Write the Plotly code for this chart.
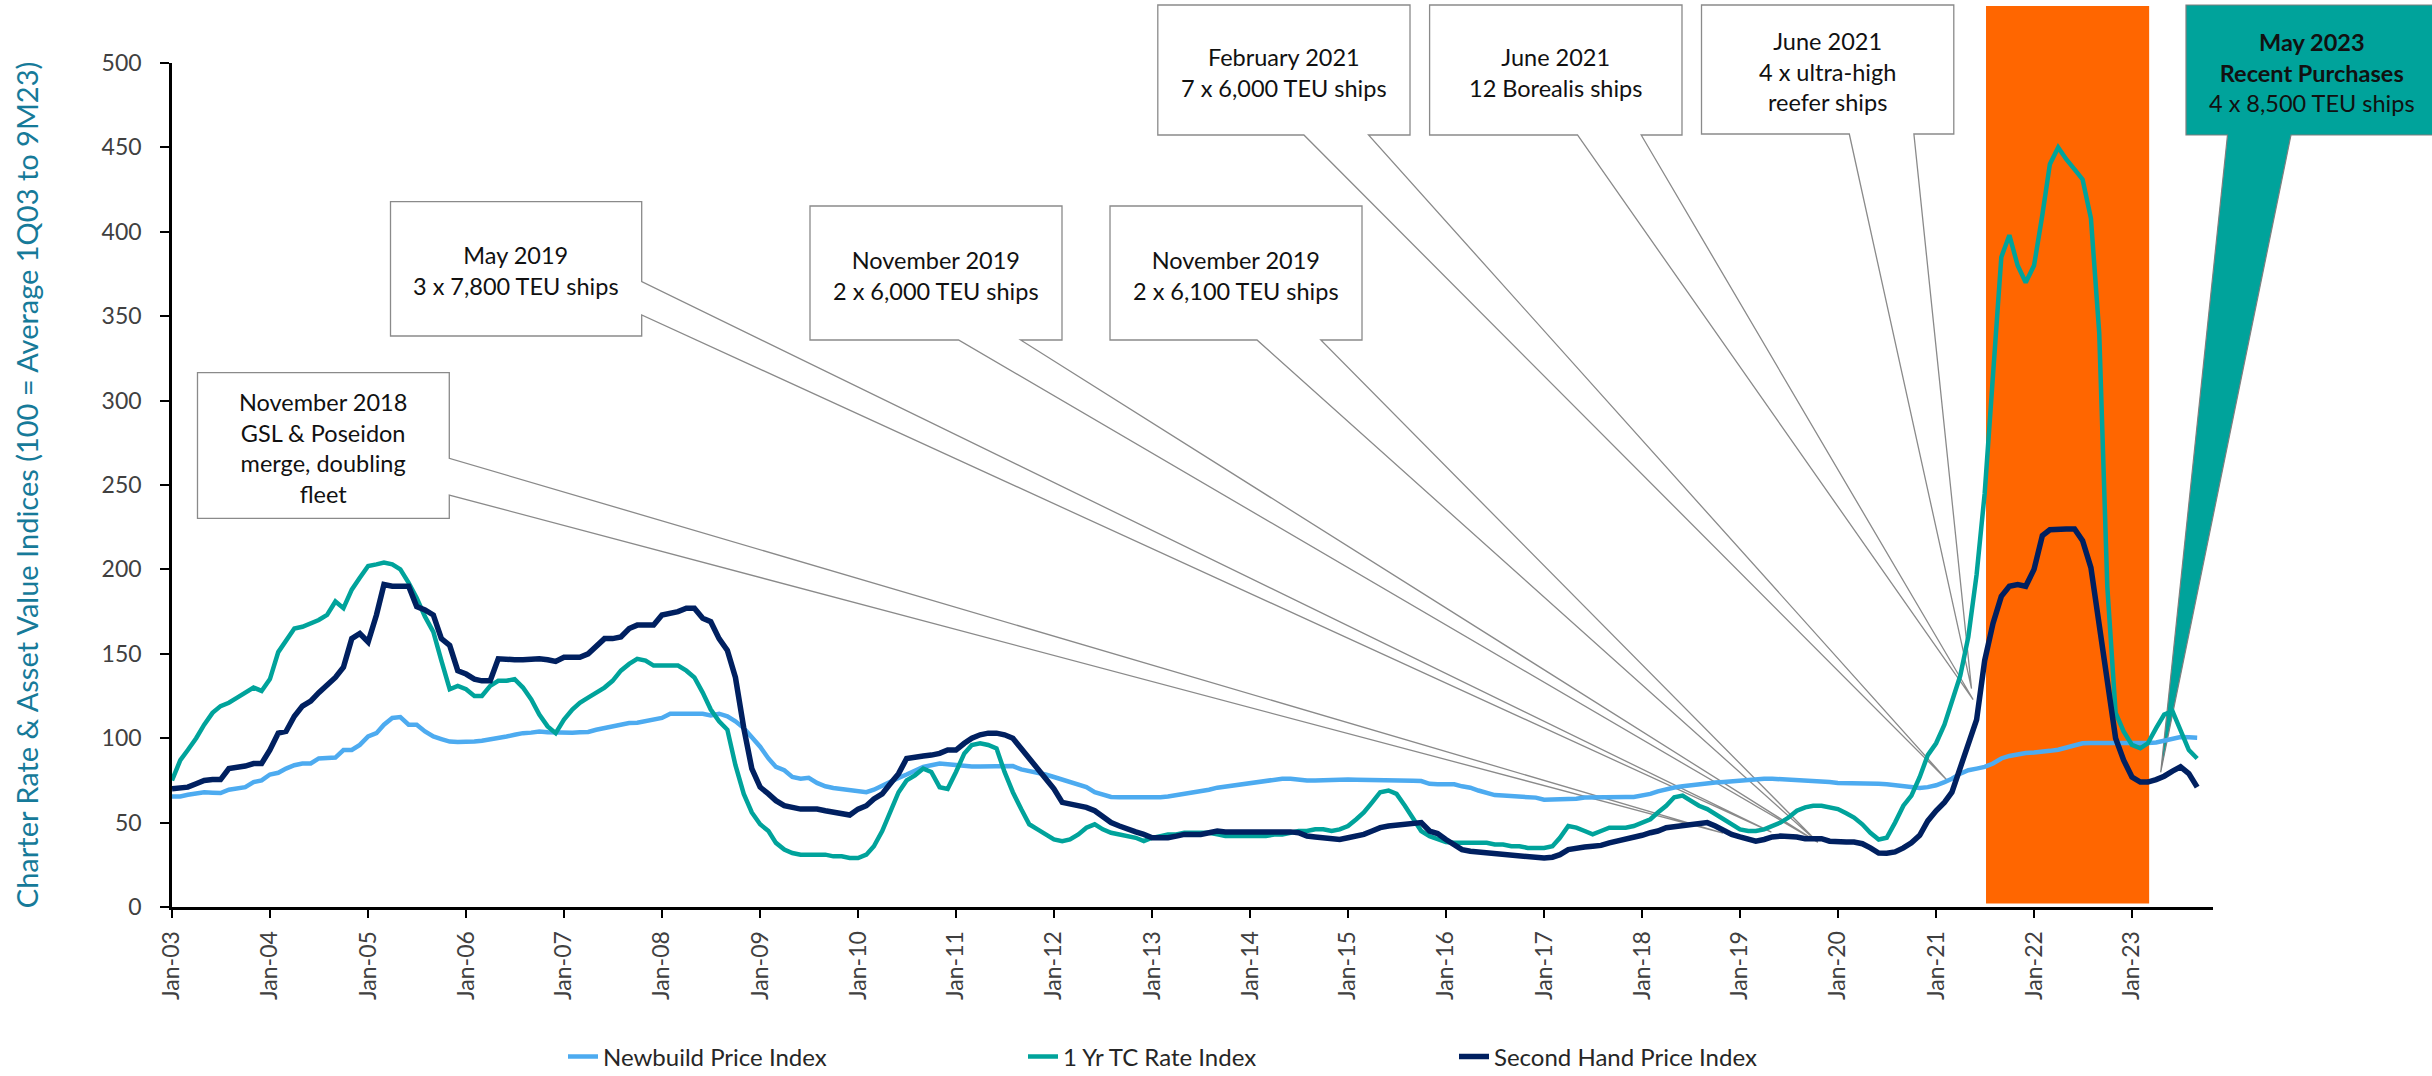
import plotly.graph_objects as go
import pandas as pd

# ---------------- DATA (monthly, Jan-2003 .. Sep-2023) ----------------
START_MONTH = "2003-01-01"

newbuild = [
    65.5, 65.5, 66.5, 67, 68, 67.7, 67.5, 69.5, 70.5, 71,
    74, 75, 78.5, 79.5, 82, 84, 85, 85, 88, 88,
    88.5, 93, 93, 96, 101, 103, 108, 112, 112.5, 108,
    108, 104, 101, 99.5, 98, 97.7, 97.7, 98, 98.5, 99.3,
    99.7, 101, 102, 103, 103.3, 104, 103.5, 103.3, 103.3, 103.3,
    103.5, 103.7, 105, 106, 106.6, 108, 109, 109.2, 110, 111,
    112, 114.5, 114.5, 114.5, 114.5, 114.5, 113.5, 114.5, 113, 110,
    106, 101, 95, 88, 83, 81, 77, 76, 76.5, 73.5,
    71.5, 70.5, 70, 69.5, 68.5, 68, 69.5, 72, 74, 76.5,
    78.5, 81, 83, 84, 85, 84.5, 84, 83.5, 83.3, 83.3,
    83.5, 83.5, 83.5, 83.5, 81.5, 80.5, 80, 78.5, 77, 75.5,
    74, 72.5, 71, 68, 66.5, 65.2, 65, 65, 64.8, 64.8,
    64.8, 65, 65.5, 66.2, 67.5, 68.2, 68.7, 69.5, 70.7, 71.4,
    72, 73, 73.5, 74, 75, 75.5, 76, 76, 75.2, 75,
    75, 75.2, 75.4, 75.8, 75.6, 75.4, 75.4, 75.4, 75.4, 75.2,
    75, 75, 74.8, 74.6, 73, 72.7, 72.7, 72.7, 71.5, 70.7,
    69, 67.5, 66.3, 66, 65.6, 65.2, 65, 64.8, 63.6, 63.6,
    63.6, 63.6, 64.2, 64.8, 65, 65.2, 65.2, 65.2, 65.2, 65.2,
    66, 67, 68.5, 70, 70.8, 71.5, 72.2, 73, 73.5, 73.8,
    74.1, 74.5, 75, 75.5, 76, 76, 76, 75.8, 75.2, 75,
    74.6, 74.6, 74.6, 74, 73.5, 73.5, 73.5, 73.5, 73.2, 73,
    72.7, 72.2, 71.5, 71, 70.5, 71, 72.1, 74, 76, 79,
    81, 82, 83, 85, 88, 89.5, 90.5, 91.2, 91.5, 91.8,
    92.5, 93.2, 94.5, 95.2, 97, 97.2, 97.2, 97.2, 96.8, 96.8,
    96.8, 97, 97.2, 97.5, 98.5, 99.5, 100.7, 100.5, 100.3,
]

tc_rate = [
    75, 87, 93, 100, 108, 115, 119, 121, 124, 127,
    130, 128, 135, 151, 158, 165, 166, 168, 170, 173,
    181, 177, 188, 195, 202, 203, 204, 203, 200, 192,
    183, 172, 163, 146, 129, 131, 129, 125, 125, 131,
    134, 134, 135, 130, 123, 114, 107, 103, 111, 117,
    121, 124, 127, 130, 134, 140, 144, 147, 146, 143,
    143, 143, 143, 140, 136, 127, 117, 110, 105, 84,
    67, 56, 49, 45, 38, 34, 32, 31, 31, 31,
    31, 30, 30, 29, 29, 31, 36, 45, 57, 68,
    75, 78, 82, 80, 71, 70, 80, 91, 96, 97,
    96, 94, 80, 68, 58, 49, 46, 43, 40, 39,
    40, 43, 47, 49, 46, 44, 43, 42, 41, 39,
    41, 42, 43, 43, 44, 44, 44, 44, 43, 42,
    42, 42, 42, 42, 42, 43, 43, 44, 45, 45,
    46, 46, 45, 46, 48, 52, 56, 62, 68, 69,
    67, 60, 52, 45, 42, 40, 38.5, 38, 38, 38,
    38, 38, 37, 37, 36, 36, 35, 35, 35, 36,
    41, 48, 47, 45, 43, 45, 47, 47, 47, 48,
    50, 52, 56, 60, 65, 66, 63, 60, 58, 55,
    52, 49, 46, 45, 45, 46, 48, 50, 53, 57,
    59, 60, 60, 59, 58, 55.5, 53, 49, 44, 40,
    41, 50, 60, 66, 77, 90, 97, 108, 121, 137,
    160, 197, 245, 318, 385, 398, 380, 370, 380, 410,
    440, 450, 443, 437, 431, 408, 340, 190, 115, 104,
    96, 94, 97, 106, 114, 116, 104, 93, 88,
]

second_hand = [
    70, 70.5, 71, 73, 75, 75.5, 75.5, 82, 82.5, 83.5,
    85, 85, 93, 103, 104, 113, 119, 122, 127, 131,
    136, 142, 159, 162, 157, 173, 191, 190, 190, 190,
    178, 176, 173, 159, 155, 140, 138, 135, 134, 134,
    147, 146.5, 146.5, 146.5, 147, 147, 146.5, 145.5, 148, 148,
    148, 150, 154, 159, 159, 160, 165, 167, 167, 167,
    173, 174, 175, 177, 177, 171, 169, 159, 152, 136,
    106, 82, 71, 67, 63, 60, 59, 58, 58, 58,
    57, 56, 55, 54.5, 58, 60, 64, 67, 73, 79,
    88, 89, 89.5, 90, 91, 93, 93, 97, 100, 102,
    103, 103, 102, 100, 94, 89, 82, 77, 70, 62,
    61, 60, 59, 57, 54, 50, 48, 46, 44.5, 43,
    41, 41, 41, 42, 43, 43, 43, 44, 45, 44.5,
    44.5, 44.5, 44.5, 44.5, 44.5, 45, 45, 44.5, 44, 42,
    41.5, 41, 40.5, 40, 41, 42, 43, 45, 47, 48,
    48.5, 49, 49.5, 50, 45, 43.5, 40, 37, 34, 33,
    32.5, 32, 31.5, 31, 30.5, 30, 29.5, 29, 29, 29.5,
    31, 34, 35, 35.5, 36, 36.5, 38, 39, 40, 41.5,
    42.5, 44, 45, 47, 47.5, 48, 49, 49.5, 50, 48,
    45, 43, 41.5, 40, 39, 40, 41.5, 42, 42, 41.5,
    40.5, 40.5, 40.5, 39, 38.5, 38.5, 38.5, 37.5, 35, 32,
    31.8, 32.6, 35, 38, 42.5, 51, 57, 62, 68, 82,
    97, 111, 146, 168, 184, 190, 191, 190, 200, 220,
    223.5, 224, 224, 224, 217, 201, 165, 135, 100, 87,
    77, 74, 74, 75.5, 77.5, 80.5, 83, 79, 71,
]

series_names = ["Newbuild Price Index", "1 Yr TC Rate Index", "Second Hand Price Index"]

tick_years = list(range(2003, 2024))
tick_labels = ["Jan-%02d" % (y % 100) for y in tick_years]

highlight_period = ("2021-07-06", "2023-03-06")

# callout anchor points on the chart (date, index value)
callout_texts = [
    "November 2018<br>GSL & Poseidon<br>merge, doubling<br>fleet",
    "May 2019<br>3 x 7,800 TEU ships",
    "November 2019<br>2 x 6,000 TEU ships",
    "November 2019<br>2 x 6,100 TEU ships",
    "February 2021<br>7 x 6,000 TEU ships",
    "June 2021<br>12 Borealis ships",
    "June 2021<br>4 x ultra-high<br>reefer ships",
    "<b>May 2023</b><br><b>Recent Purchases</b><br>4 x 8,500 TEU ships",
]
callout_tip_dates = ["2018-10-30", "2019-04-28", "2019-10-18", "2019-10-18",
                     "2021-02-14", "2021-05-19", "2021-05-13", "2023-04-18"]
callout_tip_values = [43.8, 44.4, 38.4, 38.4, 74.6, 122.9, 129.4, 79.8]

# ---------------- LAYOUT GEOMETRY ----------------
W, H = 2432, 1076
ML, MR, MT, MB = 172, 219, 63, 169
PW = W - ML - MR
PH = H - MT - MB
X_START, X_END = "2003-01-01", "2023-10-30"
Y_MAX = 500

t0, t1 = pd.Timestamp(X_START), pd.Timestamp(X_END)


def px_x(px):
    return (px - ML) / PW


def px_y(py):
    return (H - MB - py) / PH


def date_x(d):
    return (pd.Timestamp(d) - t0) / (t1 - t0)


def val_y(v):
    return v / Y_MAX


# callout boxes in figure pixels: (left, top, right, bottom), wedge side, wedge base
callout_geom = [
    ((197.5, 372.7, 449.3, 518.3), "right", (458.3, 495.0)),
    ((390.5, 201.6, 641.7, 336.0), "right", (281.7, 315.0)),
    ((810.0, 206.0, 1062.0, 340.0), "bottom", (958.5, 1020.6)),
    ((1110.0, 206.0, 1362.0, 340.0), "bottom", (1257.0, 1320.8)),
    ((1157.8, 5.0, 1410.0, 135.0), "bottom", (1303.9, 1368.5)),
    ((1429.6, 5.0, 1682.0, 135.0), "bottom", (1577.5, 1641.2)),
    ((1701.5, 5.0, 1953.8, 134.0), "bottom", (1849.3, 1913.9)),
    ((2186.0, 5.0, 2438.0, 135.0), "bottom", (2227.5, 2291.0)),
]

C_NEW = "#4dabf0"
C_TC = "#00a39b"
C_SH = "#002060"
C_ORANGE = "#ff6600"
FONT = "Lato, 'Noto Sans', sans-serif"

fig = go.Figure()

for name, vals, col, w, lg in [
    (series_names[0], newbuild, C_NEW, 4.5, "legend"),
    (series_names[1], tc_rate, C_TC, 4.5, "legend2"),
    (series_names[2], second_hand, C_SH, 5.5, "legend3"),
]:
    dates = pd.date_range(START_MONTH, periods=len(vals), freq="MS")
    fig.add_trace(go.Scatter(x=dates, y=vals, mode="lines", name=name,
                             line=dict(color=col, width=w), legend=lg))

shapes = []
# orange highlight band
shapes.append(dict(type="rect", xref="paper", yref="paper",
                   x0=date_x(highlight_period[0]), x1=date_x(highlight_period[1]),
                   y0=val_y(2), y1=px_y(6),
                   fillcolor=C_ORANGE, line=dict(width=0), layer="below"))

outline_paths = []
annotations = []
for i, (box, side, base) in enumerate(callout_geom):
    l, t, r, b = box
    tip = (date_x(callout_tip_dates[i]), val_y(callout_tip_values[i]))
    L, T, R, B = px_x(l), px_y(t), px_x(r), px_y(b)
    if side == "right":
        a0, a1 = px_y(base[0]), px_y(base[1])
        pts = [(L, T), (R, T), (R, a0), tip, (R, a1), (R, B), (L, B)]
    else:
        a0, a1 = px_x(base[0]), px_x(base[1])
        pts = [(L, T), (R, T), (R, B), (a1, B), tip, (a0, B), (L, B)]
    path = "M" + " L".join("%.5f,%.5f" % p for p in pts) + " Z"
    teal = i == len(callout_geom) - 1
    if teal:
        shapes.append(dict(type="path", xref="paper", yref="paper", path=path,
                           fillcolor=C_TC, line=dict(color="#7f7f7f", width=1.2),
                           layer="below"))
    else:
        shapes.append(dict(type="rect", xref="paper", yref="paper",
                           x0=L, x1=R, y0=B, y1=T, fillcolor="white",
                           line=dict(width=0), layer="below"))
        outline_paths.append(dict(type="path", xref="paper", yref="paper", path=path,
                                  fillcolor="rgba(0,0,0,0)",
                                  line=dict(color="#8a8a8a", width=1.3), layer="below"))
    annotations.append(dict(xref="paper", yref="paper",
                            x=px_x((l + r) / 2), y=px_y((t + b) / 2 + 2),
                            text=callout_texts[i], showarrow=False,
                            xanchor="center", yanchor="middle", align="center",
                            font=dict(family=FONT, size=23.5, color="#111111")))

shapes.extend(outline_paths)

legend_common = dict(orientation="h", yanchor="middle", y=px_y(1057), xanchor="left",
                     bgcolor="rgba(0,0,0,0)", font=dict(family=FONT, size=24, color="#262626"))

fig.update_layout(
    width=W, height=H,
    margin=dict(l=ML, r=MR, t=MT, b=MB, autoexpand=False),
    paper_bgcolor="white", plot_bgcolor="white",
    font=dict(family=FONT, size=23, color="#404040"),
    shapes=shapes,
    annotations=annotations,
    showlegend=True,
    legend=dict(legend_common, x=px_x(563)),
    legend2=dict(legend_common, x=px_x(1023)),
    legend3=dict(legend_common, x=px_x(1454)),
    xaxis=dict(type="date", range=[X_START, X_END],
               tickvals=[pd.Timestamp("%d-01-01" % y) for y in tick_years],
               ticktext=tick_labels, tickangle=-90,
               ticks="outside", ticklen=8, tickwidth=2, tickcolor="black",
               showline=True, linecolor="black", linewidth=3,
               showgrid=False, zeroline=False, ticklabelstandoff=4,
               tickfont=dict(family=FONT, size=23, color="#404040")),
    yaxis=dict(range=[0, Y_MAX], dtick=50, tick0=0,
               ticks="outside", ticklen=9, tickwidth=2, tickcolor="black",
               showline=True, linecolor="black", linewidth=2.5,
               showgrid=False, zeroline=False, ticklabelstandoff=14,
               tickfont=dict(family=FONT, size=23, color="#404040"),
               title=dict(text="Charter Rate & Asset Value Indices (100 = Average 1Q03 to 9M23)",
                          font=dict(family=FONT, size=29, color="#167a99"),
                          standoff=55)),
)

fig.write_html("out.html")
